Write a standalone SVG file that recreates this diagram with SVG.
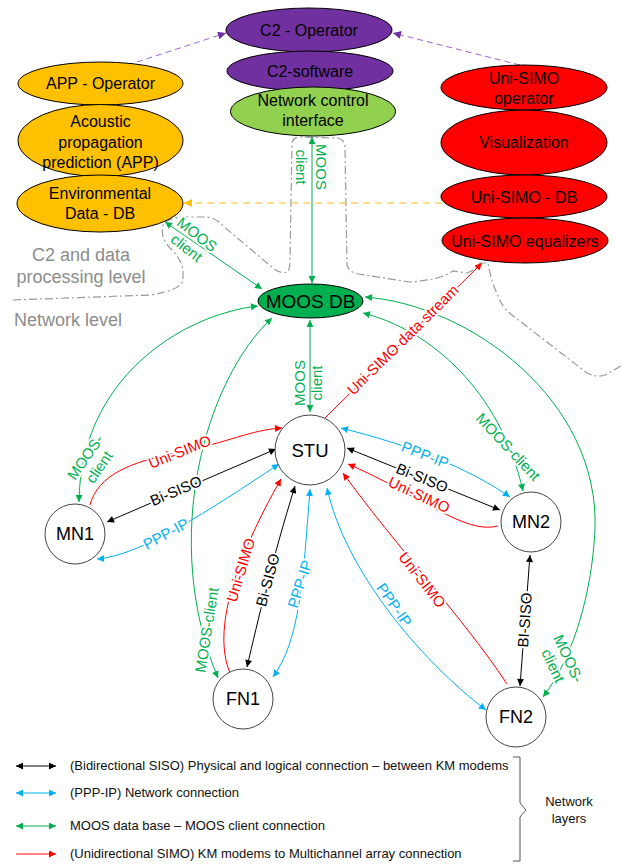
<svg xmlns="http://www.w3.org/2000/svg" width="621" height="865" viewBox="0 0 621 865">
<style>
text{font-family:"Liberation Sans",Arial,sans-serif;}
.nd{stroke:#000;stroke-width:1;}
.nt{font-size:16px;fill:#000;text-anchor:middle;}
.cn{fill:#fff;stroke:#444;stroke-width:1;}
.ct{font-size:18px;fill:#000;text-anchor:middle;}
.e{fill:none;stroke-width:1;}
.g{stroke:#00B050;}
.b{stroke:#00B0F0;}
.r{stroke:#FF0000;}
.k{stroke:#000;}
.el{font-size:15px;text-anchor:middle;stroke:#fff;stroke-width:4;paint-order:stroke;stroke-linejoin:round;}
.elp{font-size:15px;text-anchor:middle;}
.tg{fill:#00B050;}
.tb{fill:#00B0F0;}
.tr{fill:#FF0000;}
.tk{fill:#000;}
.lvl{font-size:18px;fill:#8C8C8C;}
.lg{font-size:13px;fill:#111;}
</style>
<defs>
<marker id="aK" viewBox="0 0 10 10" refX="10" refY="5" markerWidth="9" markerHeight="7" orient="auto-start-reverse" markerUnits="userSpaceOnUse"><path d="M0,0 L10,5 L0,10 z" fill="#000"/></marker>
<marker id="aB" viewBox="0 0 10 10" refX="10" refY="5" markerWidth="9" markerHeight="7" orient="auto-start-reverse" markerUnits="userSpaceOnUse"><path d="M0,0 L10,5 L0,10 z" fill="#00B0F0"/></marker>
<marker id="aG" viewBox="0 0 10 10" refX="10" refY="5" markerWidth="9" markerHeight="7" orient="auto-start-reverse" markerUnits="userSpaceOnUse"><path d="M0,0 L10,5 L0,10 z" fill="#00B050"/></marker>
<marker id="aR" viewBox="0 0 10 10" refX="10" refY="5" markerWidth="9" markerHeight="7" orient="auto-start-reverse" markerUnits="userSpaceOnUse"><path d="M0,0 L10,5 L0,10 z" fill="#FF0000"/></marker>
<marker id="aP" viewBox="0 0 10 10" refX="10" refY="5" markerWidth="10" markerHeight="8" orient="auto-start-reverse" markerUnits="userSpaceOnUse"><path d="M0,0 L10,5 L0,10 z" fill="#7030A0"/></marker>
<marker id="aO" viewBox="0 0 10 10" refX="10" refY="5" markerWidth="10" markerHeight="8" orient="auto-start-reverse" markerUnits="userSpaceOnUse"><path d="M0,0 L10,5 L0,10 z" fill="#FFC000"/></marker>
</defs>
<rect width="621" height="865" fill="#fff"/>

<!-- level boundary -->
<g id="boundary">
<path d="M13,300 L150,295 Q182,290 183,280 L183,270 Q181,258 170,248 Q160,238 163,225 Q167,217 187,217 L207,217 Q216,218 222,225 L273,268 Q280,274 288,272 Q290,268 290,260 L292,143 Q293,137 300,137 L338,138 Q345,140 345,147 L347,265 Q349,272 358,274 L410,282 Q440,280 453,271 L467,273 Q476,270 480,263 L488,263 Q492,285 497,293 Q502,308 512,315 L587,373 Q597,378 605,375 L621,366" fill="none" stroke="#9A9A9A" stroke-width="1.2" stroke-dasharray="8 3 2 3"/>
<text class="lvl" x="81" y="261" text-anchor="middle">C2 and data</text>
<text class="lvl" x="81" y="283" text-anchor="middle">processing level</text>
<text class="lvl" x="14" y="326">Network level</text>
</g>

<g id="connectors">
<!-- dashed operator links -->
<path d="M137,62 L226,33" class="e" stroke="#9966CC" stroke-dasharray="6 4" marker-end="url(#aP)"/>
<path d="M520,65 L393,33" class="e" stroke="#9966CC" stroke-dasharray="6 4" marker-end="url(#aP)"/>
<path d="M442,203 L184,203" class="e" stroke="#FFC000" stroke-dasharray="7 5" marker-end="url(#aO)"/>

<!-- green MOOS links -->
<path d="M312,137 L312,283" class="e g" marker-start="url(#aG)" marker-end="url(#aG)"/>
<text class="elp tg" transform="translate(311,167) rotate(90)"><tspan x="0" y="-5">MOOS</tspan><tspan x="0" y="15">client</tspan></text>

<path d="M165,222 L262,289" class="e g" marker-start="url(#aG)" marker-end="url(#aG)"/>
<text class="el tg" transform="translate(192,241) rotate(38)"><tspan x="0" y="-3">MOOS</tspan><tspan x="0" y="14">client</tspan></text>

<path d="M310,320 L310,412" class="e g" marker-start="url(#aG)" marker-end="url(#aG)"/>
<text class="elp tg" transform="translate(309,383) rotate(-90)"><tspan x="0" y="-4">MOOS</tspan><tspan x="0" y="13">client</tspan></text>

<path d="M258,306 C180,315 80,380 79,502" class="e g" marker-start="url(#aG)" marker-end="url(#aG)"/>
<text class="el tg" transform="translate(92,462) rotate(-55)"><tspan x="0" y="-3">MOOS-</tspan><tspan x="0" y="14">client</tspan></text>

<path d="M272,318 C205,380 160,540 218,678" class="e g" marker-start="url(#aG)" marker-end="url(#aG)"/>
<text class="el tg" transform="translate(207,630) rotate(-81)" x="0" y="5">MOOS-client</text>

<path d="M363,313 C430,330 500,390 523,491" class="e g" marker-start="url(#aG)" marker-end="url(#aG)"/>
<text class="el tg" transform="translate(508,447) rotate(47)" x="0" y="5">MOOS-client</text>

<path d="M365,297 C470,305 600,400 595,530 C592,590 575,655 543,697" class="e g" marker-start="url(#aG)" marker-end="url(#aG)"/>
<text class="el tg" transform="translate(561,662) rotate(65)"><tspan x="0" y="-3">MOOS-</tspan><tspan x="0" y="14">client</tspan></text>

<!-- Uni-SIMO data stream -->
<path d="M325,418 L482,263" class="e r" marker-end="url(#aR)"/>
<text class="el tr" transform="translate(403,340) rotate(-44.6)" x="0" y="5">Uni-SIMO data stream</text>

<!-- MN1 <-> STU -->
<path d="M90,505 C98,475 130,462 180,452 S250,430 282,428" class="e r" marker-end="url(#aR)"/>
<text class="el tr" transform="translate(180,452) rotate(-22)" x="0" y="5">Uni-SIMO</text>
<path d="M107,522 L276,449" class="e k" marker-start="url(#aK)" marker-end="url(#aK)"/>
<text class="el tk" transform="translate(176,491) rotate(-23)" x="0" y="5">Bi-SISO</text>
<path d="M97,559 C140,556 210,510 279,464" class="e b" marker-start="url(#aB)" marker-end="url(#aB)"/>
<text class="el tb" transform="translate(166,534) rotate(-28)" x="0" y="5">PPP-IP</text>

<!-- MN2 <-> STU -->
<path d="M341,428 Q450,455 510,497" class="e b" marker-start="url(#aB)" marker-end="url(#aB)"/>
<text class="el tb" transform="translate(425,455) rotate(22)" x="0" y="5">PPP-IP</text>
<path d="M347,448 L500,510" class="e k" marker-start="url(#aK)" marker-end="url(#aK)"/>
<text class="el tk" transform="translate(422,478) rotate(22)" x="0" y="5">Bi-SISO</text>
<path d="M498,526 C465,535 420,495 348,464" class="e r" marker-end="url(#aR)"/>
<text class="el tr" transform="translate(419,495) rotate(25)" x="0" y="5">Uni-SIMO</text>

<!-- MN2 <-> FN2 -->
<path d="M530,555 L520,686" class="e k" marker-start="url(#aK)" marker-end="url(#aK)"/>
<text class="el tk" transform="translate(525,620) rotate(-86)" x="0" y="5">BI-SISO</text>

<!-- FN2 <-> STU -->
<path d="M507,684 C465,620 395,545 343,473" class="e r" marker-end="url(#aR)"/>
<text class="el tr" transform="translate(422,580) rotate(52)" x="0" y="5">Uni-SIMO</text>
<path d="M486,710 C420,660 345,570 327,488" class="e b" marker-start="url(#aB)" marker-end="url(#aB)"/>
<text class="el tb" transform="translate(394,605) rotate(55)" x="0" y="5">PPP-IP</text>

<!-- FN1 <-> STU -->
<path d="M230,673 C212,630 235,560 281,479" class="e r" marker-end="url(#aR)"/>
<text class="el tr" transform="translate(241,570) rotate(-73)" x="0" y="5">Uni-SIMO</text>
<path d="M247,667 C258,620 272,560 295,486" class="e k" marker-start="url(#aK)" marker-end="url(#aK)"/>
<text class="el tk" transform="translate(268,580) rotate(-75)" x="0" y="5">Bi-SISO</text>
<path d="M273,677 C300,640 303,580 310,489" class="e b" marker-start="url(#aB)" marker-end="url(#aB)"/>
<text class="el tb" transform="translate(300,584) rotate(-72)" x="0" y="5">PPP-IP</text>
</g>

<!-- nodes -->
<g id="n-c2op"><ellipse class="nd" cx="309" cy="30" rx="83" ry="22" fill="#7030A0"/><text class="nt" x="309" y="36">C2 - Operator</text></g>
<g id="n-c2sw"><ellipse class="nd" cx="310" cy="71" rx="83" ry="20" fill="#7030A0"/><text class="nt" x="310" y="77">C2-software</text></g>
<g id="n-nci"><ellipse class="nd" cx="313" cy="111.5" rx="82.5" ry="24.5" fill="#92D050"/><text class="nt" x="313" y="106">Network control</text><text class="nt" x="313" y="126">interface</text></g>

<g id="n-appop"><ellipse class="nd" cx="100.5" cy="83.5" rx="82.5" ry="21.5" fill="#FFC000"/><text class="nt" x="100.5" y="89">APP - Operator</text></g>
<g id="n-app"><ellipse class="nd" cx="100.5" cy="140.5" rx="82.5" ry="36" fill="#FFC000"/><text class="nt" x="100.5" y="127">Acoustic</text><text class="nt" x="100.5" y="148">propagation</text><text class="nt" x="100.5" y="168">prediction (APP)</text></g>
<g id="n-envdb"><ellipse class="nd" cx="100" cy="203.5" rx="83" ry="28.5" fill="#FFC000"/><text class="nt" x="100" y="199">Environmental</text><text class="nt" x="100" y="219">Data - DB</text></g>

<g id="n-unisimoop"><ellipse class="nd" cx="524" cy="87.5" rx="83" ry="22.5" fill="#FF0000"/><text class="nt" x="524" y="84">Uni-SIMO</text><text class="nt" x="524" y="104">operator</text></g>
<g id="n-vis"><ellipse class="nd" cx="524" cy="142.5" rx="83" ry="32.5" fill="#FF0000"/><text class="nt" x="524" y="148">Visualization</text></g>
<g id="n-unidb"><ellipse class="nd" cx="524" cy="196.5" rx="83" ry="21.5" fill="#FF0000"/><text class="nt" x="524" y="203">Uni-SIMO - DB</text></g>
<g id="n-uniequ"><ellipse class="nd" cx="525" cy="240.5" rx="83" ry="22.5" fill="#FF0000"/><text class="nt" x="525" y="247">Uni-SIMO equalizers</text></g>

<g id="n-moosdb"><ellipse class="nd" cx="310.5" cy="301" rx="52.5" ry="17" fill="#00B050"/><text class="nt" x="310.5" y="308" style="font-size:19px">MOOS DB</text></g>

<g id="n-stu"><circle class="cn" cx="310" cy="450" r="35"/><text class="ct" x="310" y="457" style="font-size:18.5px">STU</text></g>
<g id="n-mn1"><circle class="cn" cx="75" cy="534" r="30"/><text class="ct" x="75" y="540">MN1</text></g>
<g id="n-mn2"><circle class="cn" cx="531" cy="522" r="30"/><text class="ct" x="531" y="528">MN2</text></g>
<g id="n-fn1"><circle class="cn" cx="243" cy="699" r="30"/><text class="ct" x="243" y="705">FN1</text></g>
<g id="n-fn2"><circle class="cn" cx="516" cy="717" r="30"/><text class="ct" x="516" y="723">FN2</text></g>

<!-- legend -->
<g id="legend">
<path d="M16,766 L56,766" class="e k" marker-start="url(#aK)" marker-end="url(#aK)"/>
<path d="M16,793 L56,793" class="e b" marker-start="url(#aB)" marker-end="url(#aB)"/>
<path d="M16,826 L56,826" class="e g" marker-start="url(#aG)" marker-end="url(#aG)"/>
<path d="M16,854 L56,854" class="e r" marker-end="url(#aR)"/>
<text class="lg" x="70" y="770">(Bidirectional SISO) Physical and logical connection – between KM modems</text>
<text class="lg" x="70" y="797">(PPP-IP) Network connection</text>
<text class="lg" x="70" y="830">MOOS data base – MOOS client connection</text>
<text class="lg" x="70" y="858">(Unidirectional SIMO) KM modems to Multichannel array connection</text>
<path d="M513,757 L520,757 L520,803 L526,810 L520,817 L520,861 L513,861" fill="none" stroke="#555" stroke-width="1"/>
<text class="lg" x="569" y="806" text-anchor="middle">Network</text>
<text class="lg" x="569" y="823" text-anchor="middle">layers</text>
</g>
</svg>
